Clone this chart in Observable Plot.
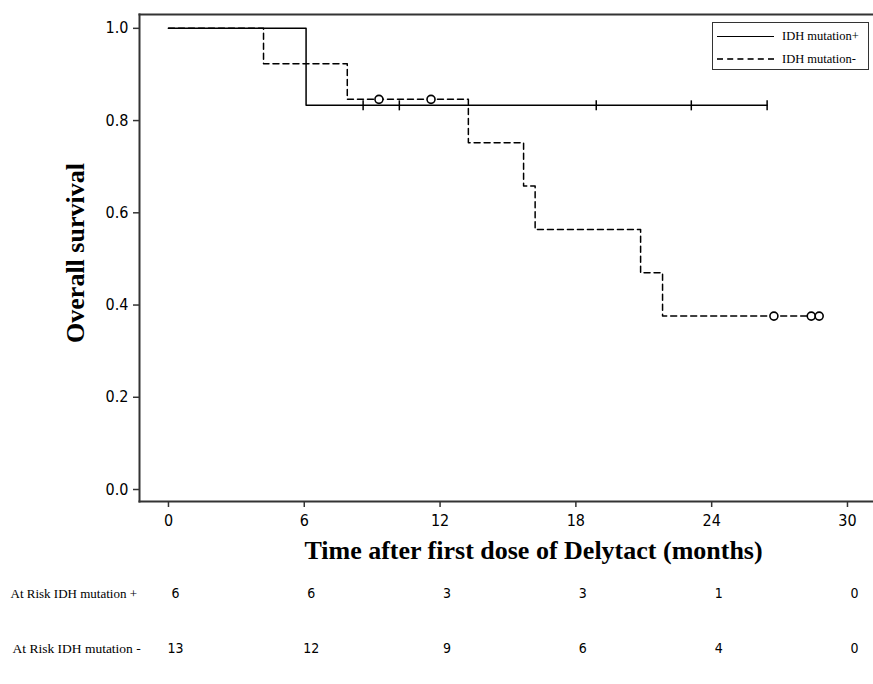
<!DOCTYPE html>
<html>
<head>
<meta charset="utf-8">
<script src="https://cdn.jsdelivr.net/npm/d3@7"></script>
<script src="https://cdn.jsdelivr.net/npm/@observablehq/plot@0.6"></script>
<style>
  html, body { margin: 0; padding: 0; background: #fff; }
  #wrap { position: relative; width: 873px; height: 684px; overflow: hidden; }
  #wrap svg { display: block; font-stretch: condensed; }
  #legend { position: absolute; left: 712px; top: 22px; width: 157px; height: 48px;
    border: 1.5px solid #333; background: #fff; font-family: "Liberation Serif", "Times New Roman", serif;
    font-size: 12.5px; color: #000; box-sizing: border-box; }
  .lrow { position: absolute; left: 4px; height: 14px; display: flex; align-items: center; }
  .lsample { width: 57px; height: 0; margin-right: 8px; }
</style>
</head>
<body>
<div id="wrap"></div>
<script>
// ---- data ----
const groups = ["IDH mutation+", "IDH mutation-"];
// Kaplan-Meier step points (time in months, survival)
const posTimes = [0, 6.08, 26.45];
const posSurv  = [1.0, 0.833, 0.833];
const negTimes = [0, 4.2, 7.9, 13.25, 15.69, 16.2, 20.86, 21.83, 28.8];
const negSurv  = [1.0, 0.923, 0.846, 0.752, 0.658, 0.564, 0.470, 0.376, 0.376];
// censored observations
const posCensorTimes = [8.6, 10.2, 18.9, 23.1, 26.45];
const posCensorSurv  = [0.833, 0.833, 0.833, 0.833, 0.833];
const negCensorTimes = [9.3, 11.6, 26.75, 28.4, 28.75];
const negCensorSurv  = [0.846, 0.846, 0.376, 0.376, 0.376];
// axes
const xTicks = [0, 6, 12, 18, 24, 30];
const yTicks = [0, 0.2, 0.4, 0.6, 0.8, 1.0];
// at-risk table
const riskRows = ["At Risk IDH mutation +", "At Risk IDH mutation -"];
const riskPos = [6, 6, 3, 3, 1, 0];
const riskNeg = [13, 12, 9, 6, 4, 0];
const xTitle = "Time after first dose of Delytact (months)";
const yTitle = "Overall survival";

// ---- build tables ----
const posCurve = posTimes.map((t, i) => ({t, s: posSurv[i]}));
const negCurve = negTimes.map((t, i) => ({t, s: negSurv[i]}));
const posCens = posCensorTimes.map((t, i) => ({t, s: posCensorSurv[i]}));
const negCens = negCensorTimes.map((t, i) => ({t, s: negCensorSurv[i]}));
const riskData = [
  ...xTicks.map((t, i) => ({t, row: riskRows[0], n: riskPos[i]})),
  ...xTicks.map((t, i) => ({t, row: riskRows[1], n: riskNeg[i]}))
];

const narrow = "'Liberation Sans Narrow', 'DejaVu Sans Condensed', 'Noto Sans', 'DejaVu Sans', sans-serif";
const serif = "'Liberation Serif', 'Times New Roman', serif";

const vbar = { draw(ctx, size) { const h = 5; ctx.moveTo(0, -h); ctx.lineTo(0, h); } };

const xDomain = [-1.28, 31.15];
const W = 873, ML = 139, MR = 0;

const main = Plot.plot({
  width: W, height: 570,
  marginLeft: ML, marginRight: MR, marginTop: 14, marginBottom: 69,
  x: {domain: xDomain},
  y: {domain: [-0.026, 1.030]},
  style: {background: "#fff", color: "#000"},
  marks: [
    Plot.frame({anchor: "left", stroke: "#333", strokeWidth: 2}),
    Plot.frame({anchor: "top", stroke: "#333", strokeWidth: 2}),
    Plot.frame({anchor: "bottom", stroke: "#333", strokeWidth: 2}),
    Plot.axisX({ticks: xTicks, tickFormat: d => String(d), tickSize: 6, tickPadding: 7,
      label: null, fontSize: 16, fontFamily: narrow, stroke: "#333", strokeWidth: 1.5}),
    Plot.axisY({ticks: yTicks, tickFormat: d3.format(".1f"), tickSize: 6, tickPadding: 5,
      label: null, fontSize: 16, fontFamily: narrow, stroke: "#333", strokeWidth: 1.5}),
    Plot.line(posCurve, {x: "t", y: "s", curve: "step-after", stroke: "#000", strokeWidth: 1.5}),
    Plot.line(negCurve, {x: "t", y: "s", curve: "step-after", stroke: "#000", strokeWidth: 1.5,
      strokeDasharray: "6,4"}),
    Plot.dot(posCens, {x: "t", y: "s", symbol: vbar, stroke: "#000", strokeWidth: 1.5, fill: "none", r: 4}),
    Plot.dot(negCens, {x: "t", y: "s", r: 4, stroke: "#000", strokeWidth: 1.6, fill: "#fff"}),
    Plot.text([yTitle], {frameAnchor: "left", textAnchor: "middle", rotate: -90, dx: -64, dy: -5,
      text: d => d, fontSize: 26, fontWeight: "bold", fontFamily: serif, fill: "#000"}),
    Plot.text([xTitle], {frameAnchor: "bottom", textAnchor: "middle", dx: 27, dy: 57, text: d => d,
      fontSize: 26, fontWeight: "bold", fontFamily: serif, fill: "#000"})
  ]
});

const table = Plot.plot({
  width: W, height: 114,
  marginLeft: ML, marginRight: MR, marginTop: 23, marginBottom: 36,
  x: {domain: xDomain, axis: null},
  y: {type: "point", domain: riskRows, padding: 0, axis: null},
  marks: [
    Plot.text([riskRows[0]], {y: d => d, frameAnchor: "left", textAnchor: "start", dx: -129,
      text: d => d, fontSize: 13, fontFamily: serif, fill: "#000"}),
    Plot.text([riskRows[1]], {y: d => d, frameAnchor: "left", textAnchor: "start", dx: -127,
      text: d => d, fontSize: 13.5, fontFamily: serif, fill: "#000"}),
    Plot.text(riskData, {x: "t", y: "row", text: d => String(d.n), dx: 7,
      fontSize: 14, fontFamily: narrow, fill: "#000"})
  ]
});

const wrap = document.getElementById("wrap");
wrap.appendChild(main);
wrap.appendChild(table);

// legend inside plot area (top right)
const legend = document.createElement("div");
legend.id = "legend";
groups.forEach((g, i) => {
  const row = document.createElement("div");
  row.className = "lrow";
  row.style.top = (i === 0 ? 6 : 29) + "px";
  const s = document.createElement("div");
  s.className = "lsample";
  s.style.borderTop = i === 0 ? "1.5px solid #000" : "2px dashed #333";
  const l = document.createElement("span");
  l.textContent = g;
  row.appendChild(s); row.appendChild(l);
  legend.appendChild(row);
});
wrap.appendChild(legend);
</script>
</body>
</html>
